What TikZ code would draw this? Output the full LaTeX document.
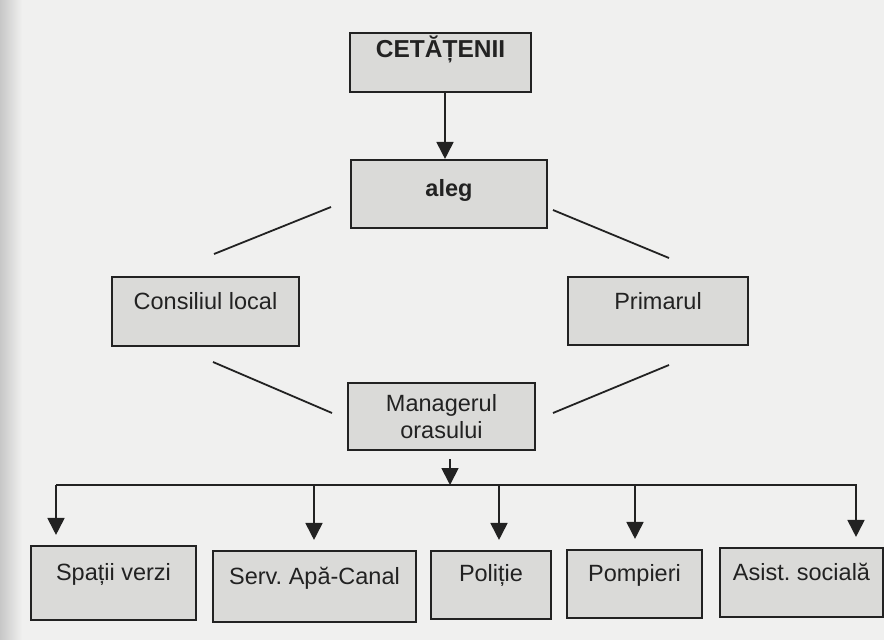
\documentclass[tikz,border=0pt]{standalone}
\usepackage{fontspec}
\setmainfont{Liberation Sans}
\usepackage{tikz}
\usetikzlibrary{arrows.meta, positioning}
\frenchspacing

\definecolor{ink}{HTML}{222222}
\definecolor{paper}{HTML}{F0F0EF}
\definecolor{boxgray}{HTML}{DADAD8}

\begin{document}
\begin{tikzpicture}[x=1pt,y=-1pt,>={Triangle[width=17pt,length=17pt]},
        line width=1.8pt, draw=ink,
        box/.style={draw=ink, line width=2.1pt, fill=boxgray, inner sep=0pt, text=ink,
                    font=\fontsize{23.5}{27}\selectfont, align=center},
        upper/.style={text height=17pt, text depth=#1},
        upper/.default=22pt]
	\useasboundingbox (0,0) rectangle (884,640);
	\fill[paper] (0,0) rectangle (884,640);
	\shade[left color=black!22, right color=paper] (0,0) rectangle (22,640);

	\node[box, upper=28pt, font=\fontsize{24.5}{27}\selectfont\bfseries,
	      minimum width=181pt, minimum height=59pt] (cet) at (440.5,62.5) {CETĂȚENII};
	\node[box, upper=12pt, font=\fontsize{23.5}{27}\selectfont\bfseries,
	      minimum width=196pt, minimum height=68pt] (aleg) at (449,194) {aleg};
	\node[box, upper=21pt, minimum width=187pt, minimum height=69pt] (cons) at (205.5,311.5) {Consiliul local};
	\node[box, upper=21pt, minimum width=180pt, minimum height=68pt] (prim) at (658,311) {Primarul};
	\node[box, minimum width=187pt, minimum height=67pt] (mgr) at (441.5,416.5) {Managerul\\orasului};

	% servicii
	\node[box, upper, minimum width=165pt, minimum height=74pt] (sv)   at (113.5,583) {Spații verzi};
	\node[box, upper, minimum width=203pt, minimum height=71pt] (sac)  at (314.5,586.5) {Serv. Apă-Canal};
	\node[box, upper=25pt, minimum width=120pt, minimum height=68pt] (pol) at (491,585) {Poliție};
	\node[box, upper, minimum width=135pt, minimum height=68pt] (pom)  at (634.5,584) {Pompieri};
	\node[box, upper, minimum width=163pt, minimum height=69pt] (asis) at (801.5,582.5) {Asist. socială};

	\coordinate (bus) at (450,485);
	\coordinate (al) at (331,207);  \coordinate (cl) at (214,254);
	\coordinate (ar) at (553,210);  \coordinate (pr) at (669,258);
	\coordinate (cm) at (213,362);  \coordinate (ml) at (332,413);
	\coordinate (pm) at (669,365);  \coordinate (mr) at (553,413);

	\draw[->] ([xshift=4.5pt]cet.south) -- ([xshift=-4pt]aleg.north);
	\draw (al) -- (cl);
	\draw (ar) -- (pr);
	\draw (cm) -- (ml);
	\draw (pm) -- (mr);

	\draw[->] ([xshift=8.5pt,yshift=-8pt]mgr.south) -- (bus);
	\draw (56,0 |- bus) -- (857,0 |- bus);
	\foreach \xa/\b in {56/sv, 314/sac, 499/pol, 635/pom, 856/asis}
		\draw[->] (\xa,0 |- bus) -- ([yshift=10pt]\b.north -| \xa,0);
\end{tikzpicture}
\end{document}
